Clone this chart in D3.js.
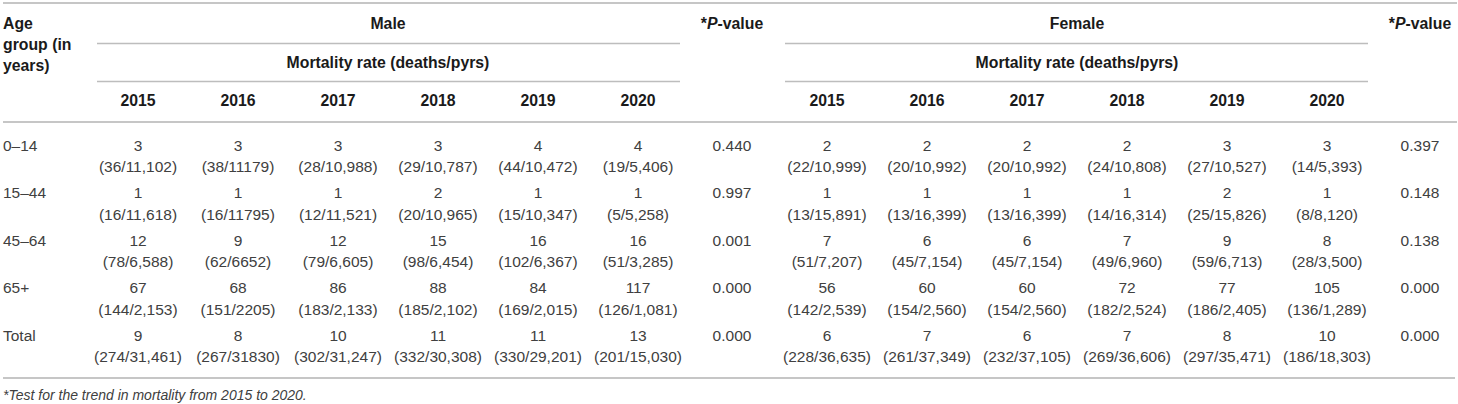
<!DOCTYPE html>
<html>
<head>
<meta charset="utf-8">
<script src="https://cdn.jsdelivr.net/npm/d3@7"></script>
<style>
    body { margin: 0; background: #fff; }
    svg text { font-family: "Liberation Sans", Arial, Helvetica, sans-serif; }
</style>
</head>
<body>
<svg id="table" width="1458" height="404"></svg>
<script>
// Table data
const ageGroups = ['0–14', '15–44', '45–64', '65+', 'Total'];
const years = ['2015', '2016', '2017', '2018', '2019', '2020'];

// Male: rate, deaths/pyrs, p-value
const maleRate = [
    [3, 3, 3, 3, 4, 4],
    [1, 1, 1, 2, 1, 1],
    [12, 9, 12, 15, 16, 16],
    [67, 68, 86, 88, 84, 117],
    [9, 8, 10, 11, 11, 13]
];
const maleCounts = [
    ['36/11,102', '38/11179', '28/10,988', '29/10,787', '44/10,472', '19/5,406'],
    ['16/11,618', '16/11795', '12/11,521', '20/10,965', '15/10,347', '5/5,258'],
    ['78/6,588', '62/6652', '79/6,605', '98/6,454', '102/6,367', '51/3,285'],
    ['144/2,153', '151/2205', '183/2,133', '185/2,102', '169/2,015', '126/1,081'],
    ['274/31,461', '267/31830', '302/31,247', '332/30,308', '330/29,201', '201/15,030']
];
const maleP = ['0.440', '0.997', '0.001', '0.000', '0.000'];

// Female: rate, deaths/pyrs, p-value
const femaleRate = [
    [2, 2, 2, 2, 3, 3],
    [1, 1, 1, 1, 2, 1],
    [7, 6, 6, 7, 9, 8],
    [56, 60, 60, 72, 77, 105],
    [6, 7, 6, 7, 8, 10]
];
const femaleCounts = [
    ['22/10,999', '20/10,992', '20/10,992', '24/10,808', '27/10,527', '14/5,393'],
    ['13/15,891', '13/16,399', '13/16,399', '14/16,314', '25/15,826', '8/8,120'],
    ['51/7,207', '45/7,154', '45/7,154', '49/6,960', '59/6,713', '28/3,500'],
    ['142/2,539', '154/2,560', '154/2,560', '182/2,524', '186/2,405', '136/1,289'],
    ['228/36,635', '261/37,349', '232/37,105', '269/36,606', '297/35,471', '186/18,303']
];
const femaleP = ['0.397', '0.148', '0.138', '0.000', '0.000'];

const footnote = '*Test for the trend in mortality from 2015 to 2020.';

const svg = d3.select('#table');

const lineColor = '#bdbdbd';
const headColor = '#1a1a1a';
const bodyColor = '#404040';

// Column scales
const xMale = d3.scaleBand().domain(years).range([88, 688]);
const xFemale = d3.scaleBand().domain(years).range([777, 1377]);
const pMaleX = 732;
const pFemaleX = 1420;

// Row scale (first text line of each row)
const yRow = d3.scalePoint().domain(ageGroups).range([145, 335]);
const subLine = 21.5;

function hline(x1, x2, y, color, width) {
    svg.append('line')
        .attr('x1', x1).attr('x2', x2)
        .attr('y1', y).attr('y2', y)
        .attr('stroke', color || lineColor)
        .attr('stroke-width', width || 1.3);
}

function label(x, y, text, opts) {
    opts = opts || {};
    return svg.append('text')
        .attr('x', x)
        .attr('y', y)
        .attr('dy', '0.36em')
        .attr('text-anchor', opts.anchor || 'middle')
        .attr('font-size', opts.size || 15.5)
        .attr('font-weight', opts.bold ? 'bold' : 'normal')
        .attr('font-style', opts.italic ? 'italic' : 'normal')
        .attr('fill', opts.color || bodyColor)
        .text(text);
}

// Rules
hline(3, 1457, 3, '#b3b3b3', 1.5);
hline(97, 680, 43.5);
hline(785, 1368, 43.5);
hline(97, 680, 81.5);
hline(785, 1368, 81.5);
hline(3, 1457, 122, '#b3b3b3', 1.5);
hline(3, 1455, 378, '#b3b3b3', 1.5);

// Header
const hb = { bold: true, color: headColor, size: 15.8 };
['Age', 'group (in', 'years)'].forEach((t, i) => {
    label(3, 23 + i * 21, t, Object.assign({ anchor: 'start' }, hb));
});

const maleMid = (xMale.range()[0] + xMale.range()[1]) / 2;
const femaleMid = (xFemale.range()[0] + xFemale.range()[1]) / 2;
label(maleMid, 23, 'Male', hb);
label(femaleMid, 23, 'Female', hb);
label(maleMid, 62, 'Mortality rate (deaths/pyrs)', hb);
label(femaleMid, 62, 'Mortality rate (deaths/pyrs)', hb);

[pMaleX, pFemaleX].forEach(x => {
    const t = label(x, 23, '', hb);
    t.append('tspan').text('*');
    t.append('tspan').attr('font-style', 'italic').text('P');
    t.append('tspan').text('-value');
});

years.forEach(yr => {
    label(xMale(yr) + xMale.bandwidth() / 2, 100, yr, hb);
    label(xFemale(yr) + xFemale.bandwidth() / 2, 100, yr, hb);
});

// Body rows
ageGroups.forEach((g, i) => {
    const y = yRow(g);
    label(3, y, g, { anchor: 'start' });

    years.forEach((yr, j) => {
        const xm = xMale(yr) + xMale.bandwidth() / 2;
        label(xm, y, maleRate[i][j]);
        label(xm, y + subLine, `(${maleCounts[i][j]})`);

        const xf = xFemale(yr) + xFemale.bandwidth() / 2;
        label(xf, y, femaleRate[i][j]);
        label(xf, y + subLine, `(${femaleCounts[i][j]})`);
    });

    label(pMaleX, y, maleP[i]);
    label(pFemaleX, y, femaleP[i]);
});

// Footnote
label(3, 395, footnote, { anchor: 'start', italic: true, size: 14 });
</script>
</body>
</html>
